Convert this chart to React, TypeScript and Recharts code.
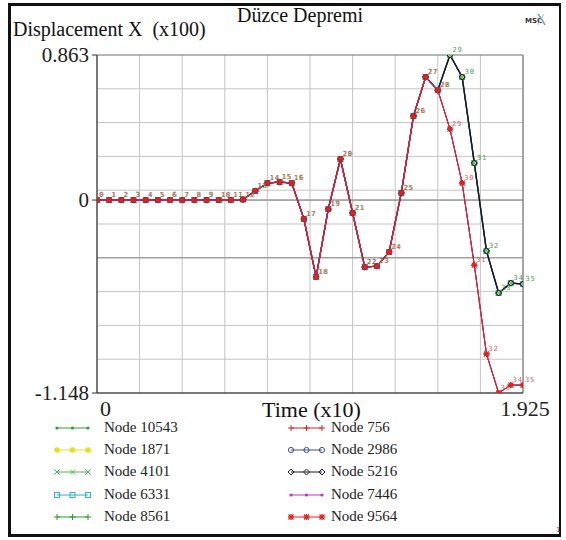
import React from 'react';
import { LineChart, Line, XAxis, YAxis, CartesianGrid, ReferenceLine, Legend, LabelList } from 'recharts';

// time axis (x10 s)
const timeValues = [
  0, 0.055, 0.11, 0.165, 0.22, 0.275, 0.33, 0.385, 0.44, 0.495, 0.55, 0.605,
  0.66, 0.715, 0.77, 0.825, 0.88, 0.935, 0.99, 1.045, 1.1, 1.155, 1.21, 1.265,
  1.32, 1.375, 1.43, 1.485, 1.54, 1.595, 1.65, 1.705, 1.76, 1.815, 1.87, 1.925,
];
const pointLabels = [
  '0', '1', '2', '3', '4', '5', '6', '7', '8', '9', '10', '11', '12', '13', '14', '15', '16', '17',
  '18', '19', '20', '21', '22', '23', '24', '25', '26', '27', '28', '29', '30', '31', '32', '33', '34', '35',
];
// displacement X (x100) — nodes that stay high after t=1.54
const upperBranch = [
  0, 0, 0, 0, 0, 0, 0, 0, 0, 0, 0, 0,
  0.003, 0.054, 0.101, 0.107, 0.101, -0.113, -0.458, -0.054, 0.244, -0.077, -0.399, -0.393,
  -0.309, 0.042, 0.5, 0.732, 0.654,
  0.863, 0.732, 0.22, -0.303, -0.553, -0.494, -0.5,
];
// nodes that drop to the minimum
const lowerBranch = [
  0, 0, 0, 0, 0, 0, 0, 0, 0, 0, 0, 0,
  0.003, 0.054, 0.101, 0.107, 0.101, -0.113, -0.458, -0.054, 0.244, -0.077, -0.399, -0.393,
  -0.309, 0.042, 0.5, 0.732, 0.654,
  0.422, 0.101, -0.387, -0.916, -1.148, -1.101, -1.101,
];

const nodeNames = ['Node 10543', 'Node 1871', 'Node 4101', 'Node 6331', 'Node 8561', 'Node 756', 'Node 2986', 'Node 5216', 'Node 7446', 'Node 9564'];
const nodeBranch = ['upper', 'upper', 'upper', 'upper', 'lower', 'lower', 'upper', 'upper', 'lower', 'lower'];
const nodeColors = ['#22a82a', '#e6e020', '#4cba4c', '#30b0c8', '#2a9a2a', '#d02828', '#3848b0', '#1a1a1a', '#c030c0', '#e02020'];
const nodeShapes = ['dot', 'star', 'x', 'square', 'plus', 'plus', 'circle', 'diamond', 'dot', 'asterisk'];
// drawing order (later = on top)
const drawOrder = ['Node 10543', 'Node 1871', 'Node 4101', 'Node 6331', 'Node 8561', 'Node 2986', 'Node 5216', 'Node 756', 'Node 7446', 'Node 9564'];

const yGridValues = [0.863, 0.6619, 0.4608, 0.2597, 0.0586, -0.1425, -0.3436, -0.5447, -0.7458, -0.9469, -1.148];
const xGridValues = [0, 0.1925, 0.385, 0.5775, 0.77, 0.9625, 1.155, 1.3475, 1.54, 1.7325, 1.925];
const yTickLabelValues = [0.863, 0, -1.148];
const yTickLabels = ['0.863', '0', '-1.148'];
const xTickLabelValues = [0, 1.925];
const xTickLabels = ['0', '1.925'];

const data = timeValues.map((t, i) => {
  const row: any = { t, lbl: pointLabels[i] };
  nodeNames.forEach((n, k) => {
    row[n] = nodeBranch[k] === 'upper' ? upperBranch[i] : lowerBranch[i];
  });
  return row;
});

const SERIF = '"Liberation Serif", "Times New Roman", serif';

function Marker({ shape, cx, cy, color }: any) {
  const s = 2.5;
  switch (shape) {
    case 'dot':
      return <circle cx={cx} cy={cy} r={1.6} fill={color} stroke="none" />;
    case 'star':
      return (
        <g stroke={color} strokeWidth={1.2}>
          <circle cx={cx} cy={cy} r={2.2} fill={color} />
          <line x1={cx - 3} y1={cy} x2={cx + 3} y2={cy} />
        </g>
      );
    case 'x':
      return (
        <g stroke={color} strokeWidth={1}>
          <line x1={cx - s} y1={cy - s} x2={cx + s} y2={cy + s} />
          <line x1={cx - s} y1={cy + s} x2={cx + s} y2={cy - s} />
        </g>
      );
    case 'square':
      return <rect x={cx - s} y={cy - s} width={2 * s} height={2 * s} fill="none" stroke={color} strokeWidth={1} />;
    case 'plus':
      return (
        <g stroke={color} strokeWidth={1}>
          <line x1={cx - 3} y1={cy} x2={cx + 3} y2={cy} />
          <line x1={cx} y1={cy - 3} x2={cx} y2={cy + 3} />
        </g>
      );
    case 'circle':
      return <circle cx={cx} cy={cy} r={2.6} fill="none" stroke={color} strokeWidth={1} />;
    case 'diamond':
      return <path d={`M${cx},${cy - 3}L${cx + 3},${cy}L${cx},${cy + 3}L${cx - 3},${cy}Z`} fill="none" stroke={color} strokeWidth={1} />;
    case 'asterisk':
    default:
      return (
        <g stroke={color} strokeWidth={1.3}>
          <line x1={cx - s} y1={cy - s} x2={cx + s} y2={cy + s} />
          <line x1={cx - s} y1={cy + s} x2={cx + s} y2={cy - s} />
          <line x1={cx - 3} y1={cy} x2={cx + 3} y2={cy} />
          <line x1={cx} y1={cy - 3} x2={cx} y2={cy + 3} />
        </g>
      );
  }
}

const makeDot = (shape: string, color: string) => (p: any) => {
  if (p.cx == null || p.cy == null) return <g key={`${p.dataKey}-${p.index}`} />;
  return <g key={`${p.dataKey}-${p.index}`}><Marker shape={shape} cx={p.cx} cy={p.cy} color={color} /></g>;
};

const makePointLabel = (color: string, dx: number) => (p: any) => {
  if (p.x == null || p.y == null) return null;
  return (
    <text x={p.x + 2 + dx} y={p.y - 3} fontSize={7} fontFamily='"DejaVu Sans Mono", monospace' fill={color} letterSpacing={0.8} opacity={0.85}>
      {p.value}
    </text>
  );
};

const YTick = (props: any) => {
  const { x, y, payload } = props;
  const k = yTickLabelValues.findIndex((v) => Math.abs(v - payload.value) < 1e-6);
  if (k < 0) return <g />;
  return (
    <g>
      <line x1={x - 5} y1={y} x2={x} y2={y} stroke="#333" strokeWidth={1} />
      <text x={x - 8} y={y + 7} textAnchor="end" fontFamily={SERIF} fontSize={21} fill="#222">
        {yTickLabels[k]}
      </text>
    </g>
  );
};

const XTick = (props: any) => {
  const { x, y, payload } = props;
  const k = xTickLabelValues.findIndex((v) => Math.abs(v - payload.value) < 1e-6);
  if (k < 0) return <g />;
  return (
    <text x={k === 0 ? x + 3 : x + 2} y={y + 23} textAnchor={k === 0 ? 'start' : 'middle'} fontFamily={SERIF} fontSize={22} fill="#222">
      {xTickLabels[k]}
    </text>
  );
};

const legendLeftX = [57, 291];
const legendTextX = [104, 331];
const legendRowY = [428, 450, 472, 495, 517];

const LegendContent = () => (
  <div style={{ position: 'relative', width: 566, height: 0 }}>
    {nodeNames.map((n, k) => {
      const col = k < 5 ? 0 : 1;
      const row = k % 5;
      const cy = legendRowY[row];
      const x0 = legendLeftX[col];
      return (
        <React.Fragment key={n}>
          <svg style={{ position: 'absolute', left: x0 - 4, top: cy - 6 }} width={40} height={12}>
            <line x1={4} y1={6} x2={35} y2={6} stroke={nodeColors[k]} strokeWidth={1} />
            {[4, 19.5, 35].map((mx) => (
              <Marker key={mx} shape={nodeShapes[k]} cx={mx} cy={6} color={nodeColors[k]} />
            ))}
          </svg>
          <span style={{ position: 'absolute', left: legendTextX[col], top: cy - 9, fontFamily: SERIF, fontSize: 15, lineHeight: '17px', color: '#222', whiteSpace: 'nowrap' }}>
            {n}
          </span>
        </React.Fragment>
      );
    })}
  </div>
);

export default function App() {
  return (
    <div style={{ position: 'absolute', left: 0, top: 0, width: 566, height: 540, background: '#fff', overflow: 'hidden' }}>
      <div style={{ position: 'absolute', left: 8, top: 3, width: 553, height: 534, boxSizing: 'border-box', borderLeft: '3px solid #111', borderTop: '3px solid #111', borderRight: '2px solid #111', borderBottom: '3px solid #111' }} />
      <div style={{ position: 'absolute', left: 0, top: 0 }}>
        <LineChart width={566} height={540} data={data} margin={{ top: 55, right: 43, bottom: 0, left: 0 }}>
          <CartesianGrid stroke="#c4c4c4" strokeWidth={1} />
          <XAxis
            type="number"
            dataKey="t"
            domain={[0, 1.925]}
            ticks={xGridValues}
            interval={0}
            height={147}
            tickLine={false}
            tickSize={0}
            tickMargin={0}
            axisLine={{ stroke: '#111', strokeWidth: 1.2 }}
            tick={<XTick />}
            allowDataOverflow
          />
          <YAxis
            type="number"
            domain={[-1.148, 0.863]}
            ticks={[...yGridValues, 0]}
            interval={0}
            width={97}
            tickLine={false}
            tickSize={0}
            tickMargin={0}
            axisLine={{ stroke: '#333', strokeWidth: 1.2 }}
            tick={<YTick />}
            allowDataOverflow
          />
          <ReferenceLine y={0.863} stroke="#8a8a8a" strokeWidth={1} />
          <ReferenceLine x={1.925} stroke="#6a6a6a" strokeWidth={1} />
          <ReferenceLine y={0} stroke="#7a7a7a" strokeWidth={1} />
          <ReferenceLine y={-0.3436} stroke="#8a8a8a" strokeWidth={1} />
          <Legend
            content={<LegendContent />}
            wrapperStyle={{ position: 'absolute', left: 0, top: 0, width: 566, height: 0, margin: 0 }}
          />
          {drawOrder.map((n) => {
            const k = nodeNames.indexOf(n);
            return (
              <Line
                key={n}
                type="linear"
                dataKey={n}
                name={n}
                stroke={nodeColors[k]}
                strokeWidth={n === 'Node 5216' || n === 'Node 2986' ? 1.4 : 1}
                dot={makeDot(nodeShapes[k], nodeColors[k])}
                activeDot={false}
                isAnimationActive={false}
              >
                {n === 'Node 10543' && <LabelList dataKey="lbl" content={makePointLabel('#2e8a2e', 0.6)} />}
                {n === 'Node 9564' && <LabelList dataKey="lbl" content={makePointLabel('#d04848', 0)} />}
              </Line>
            );
          })}
        </LineChart>
      </div>
      <div style={{ position: 'absolute', left: 237, top: 4, fontFamily: SERIF, fontSize: 20, lineHeight: '23px', color: '#111', whiteSpace: 'nowrap' }}>
        Düzce Depremi
      </div>
      <div style={{ position: 'absolute', left: 13, top: 18, fontFamily: SERIF, fontSize: 20, lineHeight: '23px', color: '#111', whiteSpace: 'pre' }}>
        {'Displacement X  (x100)'}
      </div>
      <div style={{ position: 'absolute', left: 262, top: 397, fontFamily: SERIF, fontSize: 22, lineHeight: '25px', color: '#111', whiteSpace: 'nowrap' }}>
        Time (x10)
      </div>
      <svg style={{ position: 'absolute', left: 524, top: 10 }} width={22} height={18}>
        <text x={1} y={13} fontFamily='"DejaVu Sans", sans-serif' fontWeight="bold" fontSize={7} fill="#333">MSC</text>
        <path d="M14,4 Q18,9 21,15" stroke="#7a9ab8" strokeWidth={1.5} fill="none" />
        <path d="M20,4 Q16,10 14,15" stroke="#aab8c8" strokeWidth={1} fill="none" />
      </svg>
      <div style={{ position: 'absolute', left: 556, top: 526, fontFamily: '"DejaVu Sans Mono", monospace', fontSize: 7, color: '#c03030' }}>1</div>
    </div>
  );
}
